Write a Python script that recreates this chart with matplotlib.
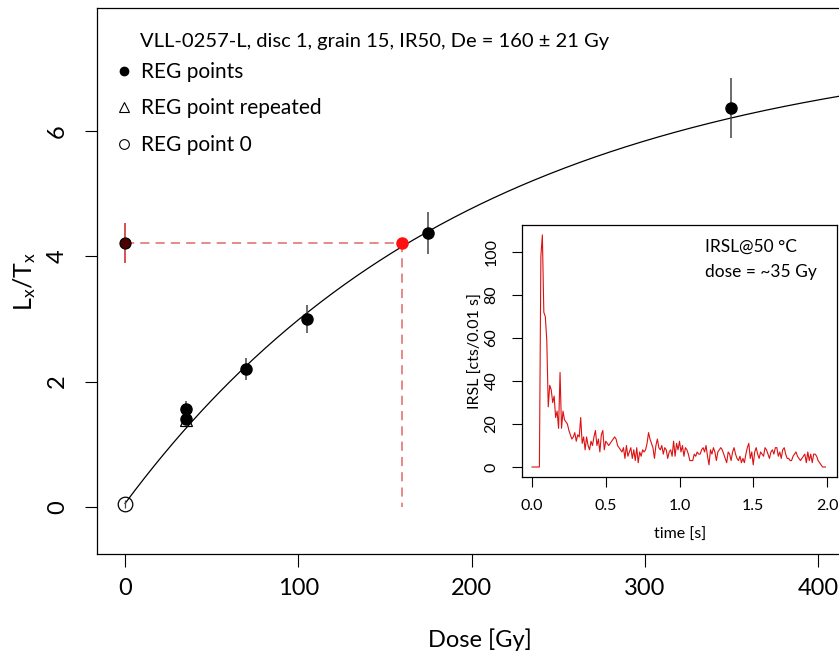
import matplotlib.pyplot as plt
import numpy as np
from matplotlib.lines import Line2D

plt.rcParams['font.family'] = ['Lato', 'DejaVu Sans']
plt.rcParams['mathtext.default'] = 'regular'

# growth curve data
reg_dose = [35, 35, 70, 105, 175, 350]
reg_lxtx = [1.57, 1.41, 2.20, 3.00, 4.37, 6.37]
reg_err = [0.12, 0.10, 0.17, 0.23, 0.33, 0.48]
rep_dose = [35]
rep_lxtx = [1.38]
zero_dose = [0]
zero_lxtx = [0.05]
zero_err = [0.06]
nat_lxtx = 4.21
nat_err = 0.32
de = 160
de_err = 21
# fitted exponential  a * (1 - exp(-(D + c) / b))
fit_a, fit_b, fit_c = 7.5, 200.0, 1.5

# IRSL shine-down curve (counts per 0.01 s channel)
channel = 0.01
irsl_counts = [
    0, 0, 0, 0, 0, 0, 98, 108, 72, 70,
    59, 28, 38, 36, 30, 33, 23, 26, 18, 44,
    18, 26, 22, 21, 20, 17, 15, 13, 14, 16,
    12, 15, 14, 23, 11, 14, 8, 14, 10, 8,
    12, 10, 14, 17, 10, 13, 7, 15, 17, 8,
    12, 11, 10, 11, 12, 13, 14, 13, 10, 9,
    8, 7, 9, 4, 10, 5, 7, 9, 4, 8,
    3, 9, 2, 7, 5, 8, 7, 8, 11, 16,
    13, 11, 9, 4, 10, 13, 9, 8, 10, 6,
    9, 8, 4, 7, 8, 5, 12, 5, 11, 8,
    12, 7, 10, 5, 9, 8, 6, 3, 3, 3,
    6, 5, 7, 6, 6, 8, 9, 7, 10, 5,
    1, 8, 6, 9, 7, 3, 7, 8, 9, 8,
    6, 4, 2, 7, 6, 3, 7, 9, 6, 4,
    3, 5, 2, 4, 2, 6, 9, 11, 4, 7,
    1, 7, 9, 6, 4, 7, 6, 5, 9, 8,
    6, 4, 7, 8, 6, 9, 9, 5, 7, 4,
    8, 9, 6, 4, 4, 3, 3, 5, 6, 7,
    5, 4, 3, 4, 5, 6, 2, 7, 3, 6,
    2, 6, 6, 5, 3, 2, 1, 0, 0, 0,
]
irsl_time = np.arange(len(irsl_counts)) * channel

W, H = 839, 655
fig = plt.figure(figsize=(W / 100, H / 100), dpi=100)

# main axes (right edge runs past the figure, as in the original)
ax = fig.add_axes([97 / W, 101 / H, 766 / W, 546 / H])
ax.set_xlim(-16.2, 426)
ax.set_ylim(-0.75, 7.96)

dose_grid = np.linspace(0, 440, 400)
ax.plot(dose_grid, fit_a * (1 - np.exp(-(dose_grid + fit_c) / fit_b)),
        color='black', lw=0.9, zorder=2)

# De construction lines
ax.plot([0, de], [nat_lxtx, nat_lxtx], ls=(0, (6, 4)), color='#e06a6a', lw=1.1, zorder=1)
ax.plot([de, de], [nat_lxtx, 0], ls=(0, (6, 4)), color='#e06a6a', lw=1.1, zorder=1)

ax.errorbar(reg_dose, reg_lxtx, yerr=reg_err, fmt='none', ecolor='#444444',
            elinewidth=1.1, capsize=0, zorder=3)
ax.errorbar(zero_dose, zero_lxtx, yerr=zero_err, fmt='none', ecolor='#444444',
            elinewidth=0.9, capsize=0, zorder=3)
ax.errorbar([0], [nat_lxtx], yerr=[nat_err], fmt='none', ecolor='#cc2222',
            elinewidth=1.1, capsize=0, zorder=3)
ax.plot(rep_dose, rep_lxtx, '^', mfc='none', mec='black', ms=9, mew=0.9, zorder=4)
ax.plot(reg_dose, reg_lxtx, 'o', color='black', ms=8, zorder=5)
ax.plot(zero_dose, zero_lxtx, 'o', mfc='none', mec='black', ms=10.5, mew=0.9, zorder=5)
ax.plot([0], [nat_lxtx], 'o', mfc='#4a0000', mec='black', ms=8, mew=0.8, zorder=5)
ax.plot([de], [nat_lxtx], 'o', color='#ff1010', ms=8, zorder=5)

ax.set_xticks([0, 100, 200, 300, 400])
ax.set_yticks([0, 2, 4, 6])
ax.tick_params(axis='both', direction='out', length=9, width=0.8, labelsize=17)
ax.tick_params(axis='x', pad=8)
ax.tick_params(axis='y', pad=12)
plt.setp(ax.get_yticklabels(), rotation=90, va='center')
for s in ax.spines.values():
    s.set_linewidth(0.9)

fig.text(480 / W, 1 - 640 / H, 'Dose [Gy]', ha='center', va='center', fontsize=17)
fig.text(25 / W, 1 - 281 / H, 'L$_x$/T$_x$', ha='center', va='center',
         rotation=90, fontsize=18)

fig.text(140 / W, 1 - 41 / H,
         'VLL-0257-L, disc 1, grain 15, IR50, De = %d \u00b1 %d Gy' % (de, de_err),
         ha='left', va='center', fontsize=14.5)

handles = [
    Line2D([], [], ls='none', marker='o', color='black', ms=6),
    Line2D([], [], ls='none', marker='^', mfc='none', mec='black', ms=7, mew=0.8),
    Line2D([], [], ls='none', marker='o', mfc='none', mec='black', ms=7, mew=0.8),
]
ax.legend(handles, ['REG points', 'REG point repeated', 'REG point 0'],
          loc='upper left', bbox_to_anchor=(116 / W, 1 - 62 / H),
          bbox_transform=fig.transFigure, frameon=False, fontsize=15,
          handlelength=0.8, handletextpad=0.4, labelspacing=0.79, borderpad=0,
          borderaxespad=0)

# inset with the IRSL curve
axin = fig.add_axes([522 / W, 178 / H, 315 / W, 252 / H])
axin.plot(irsl_time, irsl_counts, color='#dd1111', lw=0.8)
axin.set_xlim(-0.068, 2.068)
axin.set_ylim(-4.65, 112.6)
axin.set_xticks([0, 0.5, 1.0, 1.5, 2.0])
axin.set_xticklabels(['0.0', '0.5', '1.0', '1.5', '2.0'])
axin.set_yticks([0, 20, 40, 60, 80, 100])
axin.tick_params(axis='both', direction='out', length=7, width=0.8, labelsize=11.5)
axin.tick_params(axis='x', pad=9)
axin.tick_params(axis='y', pad=10)
plt.setp(axin.get_yticklabels(), rotation=90, va='center')
for s in axin.spines.values():
    s.set_linewidth(0.9)
axin.text(0.581, 0.913, 'IRSL@50 \u00b0C', transform=axin.transAxes,
          ha='left', va='center', fontsize=12.5)
axin.text(0.581, 0.813, 'dose = ~35 Gy', transform=axin.transAxes,
          ha='left', va='center', fontsize=12.5)
fig.text(680 / W, 1 - 535 / H, 'time [s]', ha='center', va='center', fontsize=11.5)
fig.text(476 / W, 1 - 351 / H, 'IRSL [cts/0.01 s]', ha='center', va='center',
         rotation=90, fontsize=11.5)

fig.savefig('out.png', dpi=100)
